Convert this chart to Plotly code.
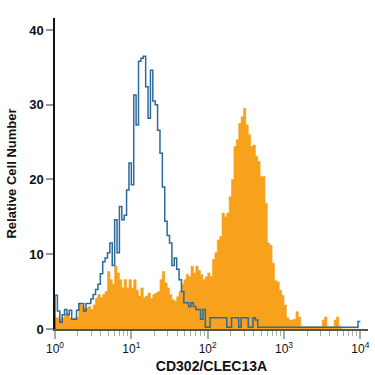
import plotly.graph_objects as go

# Histogram bins: 32 bins per decade, from 10^0 to 10^4 (log10 of bin left edges = i/32)
BINS_PER_DECADE = 32
N_BINS = 128

stained = [
    1.5, 1.5, 1.3, 1.5, 2.0, 2.1, 1.5, 1.4, 1.5, 1.6,
    3.4, 3.2, 2.8, 2.8, 3.0, 2.6, 3.2, 4.1, 4.6, 4.2,
    4.6, 5.0, 7.7, 6.6, 6.0, 8.4, 7.5, 6.6, 5.5, 6.6,
    5.5, 6.6, 5.5, 6.6, 5.2, 4.4, 5.5, 4.2, 4.4, 4.8,
    4.1, 4.6, 4.8, 5.0, 6.6, 7.7, 6.2, 5.5, 4.6, 3.9,
    3.7, 4.3, 5.0, 6.0, 6.6, 7.3, 7.0, 8.4, 7.5, 8.4,
    7.8, 7.3, 6.6, 7.0, 7.5, 7.0, 9.3, 10.2, 11.9, 12.4,
    15.5, 15.0, 15.5, 17.7, 20.0, 24.4, 25.3, 27.5, 28.4, 29.5,
    27.3, 26.0, 24.4, 24.6, 23.1, 22.4, 20.4, 20.4, 16.8, 11.5,
    11.2, 8.8, 6.5, 6.3, 5.2, 4.5, 3.2, 1.5, 1.2, 1.2,
    1.3, 2.3, 1.6, 0.3, 0.3, 0.3, 0.3, 0.3, 0.3, 0.3,
    0.3, 0.3, 1.2, 1.6, 0.3, 0.3, 0.3, 1.2, 1.6, 0.3,
    0, 0, 0, 0, 0, 0, 0, 0,
]

isotype = [
    4.5, 2.4, 0.9, 1.9, 2.6, 1.9, 2.5, 1.3, 1.3, 2.5,
    3.4, 3.4, 2.4, 3.4, 3.4, 4.0, 4.6, 5.3, 6.0, 7.4,
    9.0, 9.5, 10.2, 11.5, 8.5, 14.6, 10.2, 16.4, 14.6, 15.2,
    18.6, 22.2, 19.3, 31.3, 27.3, 35.8, 36.2, 36.5, 32.4, 28.2,
    34.6, 30.5, 30.0, 26.6, 23.5, 19.0, 14.4, 12.5, 11.5, 8.5,
    9.5, 8.0, 6.6, 5.0, 3.5, 3.5, 3.0, 3.5, 3.0, 2.6,
    2.6, 1.3, 2.6, 0.25, 0.25, 1.5, 1.5, 1.5, 1.5, 1.5,
    1.5, 1.5, 0.25, 0.25, 1.5, 1.5, 1.5, 0.25, 1.5, 1.5,
    1.5, 0.25, 0.25, 1.5, 1.2, 0.25, 0.25, 0.25, 0.25, 0.25,
    0.25, 0.25, 0.25, 0.25, 0.25, 0.25, 0.25, 0.25, 0.25, 0.25,
    0.25, 0.25, 0.25, 0.25, 0.25, 0.25, 0.25, 0.25, 0.25, 0.25,
    0.25, 0.25, 0.25, 0.25, 0.25, 0.25, 0.25, 0.25, 0.25, 0.25,
    0.25, 0.25, 0.25, 0.25, 0.25, 0.25, 0.25, 1.0,
]

major_ticks = [1, 10, 100, 1000, 10000]
major_labels = ["10<sup>0</sup>", "10<sup>1</sup>", "10<sup>2</sup>", "10<sup>3</sup>", "10<sup>4</sup>"]
y_ticks = [0, 10, 20, 30, 40]

ORANGE = "#F7A11C"
BLUE = "#2C6A9C"

edges = [10 ** (i / BINS_PER_DECADE) for i in range(N_BINS + 1)]


def step_xy(values):
    xs = [edges[0]] + edges[:N_BINS] + [edges[N_BINS]]
    ys = [0] + list(values) + [values[-1]]
    return xs, ys


ox, oy = step_xy(stained)
bx, by = step_xy(isotype)

fig = go.Figure()
fig.add_trace(go.Scatter(
    x=ox, y=oy, mode="lines", line=dict(shape="hv", color=ORANGE, width=0.6),
    fill="tozeroy", fillcolor=ORANGE, hoverinfo="skip", showlegend=False,
))
fig.add_trace(go.Scatter(
    x=bx, y=by, mode="lines", line=dict(shape="hv", color=BLUE, width=1.5),
    hoverinfo="skip", showlegend=False,
))

minor_vals = [m * 10 ** d for d in range(4) for m in range(2, 10)]

FONT = "Liberation Sans Narrow, Arial Narrow, Liberation Sans, Arial, sans-serif"

fig.update_layout(
    width=375, height=375,
    margin=dict(l=55, r=7, t=18, b=46, autoexpand=False),
    paper_bgcolor="white", plot_bgcolor="white",
    font=dict(family=FONT, color="#111"),
    showlegend=False,
    xaxis=dict(
        type="log", range=[0, 4.1], automargin=False,
        tickvals=major_ticks, ticktext=major_labels,
        ticks="outside", ticklen=8, tickcolor="#aaaaaa", tickwidth=1.5,
        tickfont=dict(size=12, family=FONT, color="#111"),
        showline=True, linecolor="#555555", linewidth=1.5,
        showgrid=False, zeroline=False,
        minor=dict(tickvals=minor_vals, ticks="outside", ticklen=5,
                   tickcolor="#aaaaaa", tickwidth=1.2, showgrid=False),
        title=dict(text="<b>CD302/CLEC13A</b>", font=dict(size=14, family=FONT, color="#111"),
                   standoff=6),
    ),
    yaxis=dict(
        range=[0, 41.6], automargin=False,
        tickvals=y_ticks, ticktext=["<b>%d</b>" % v for v in y_ticks],
        ticks="outside", ticklen=7, tickcolor="#999999", tickwidth=1.5,
        tickfont=dict(size=13, family=FONT, color="#111"),
        showline=True, linecolor="#111111", linewidth=1.5,
        showgrid=False, zeroline=False,
        title=dict(text="<b>Relative Cell Number</b>", font=dict(size=13, family=FONT, color="#111"),
                   standoff=10),
    ),
)

fig.write_html(
    "out.html",
    config={"displayModeBar": False},
    post_script="document.body.style.margin='0';document.body.style.padding='0';",
)
